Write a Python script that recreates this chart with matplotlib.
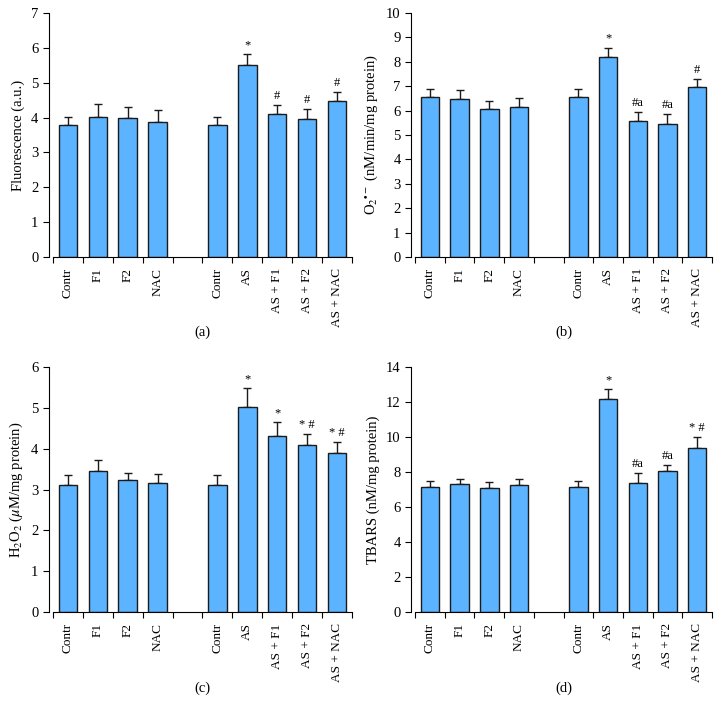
import matplotlib
matplotlib.use("Agg")
import matplotlib.pyplot as plt
import numpy as np

plt.rcParams['font.family'] = ['Liberation Serif', 'DejaVu Serif']
plt.rcParams['mathtext.fontset'] = 'stix'

categories = ["Contr", "F1", "F2", "NAC", "", "Contr", "AS", "AS + F1", "AS + F2", "AS + NAC"]

# panel (a) Fluorescence
a_vals = [3.80, 4.03, 4.00, 3.87, None, 3.80, 5.52, 4.10, 3.97, 4.49]
a_err = [0.22, 0.36, 0.30, 0.35, None, 0.22, 0.31, 0.26, 0.28, 0.25]
a_sig = ["", "", "", "", "", "", "*", "#", "#", "#"]

# panel (b) superoxide
b_vals = [6.57, 6.48, 6.05, 6.13, None, 6.57, 8.18, 5.59, 5.47, 6.97]
b_err = [0.31, 0.36, 0.33, 0.39, None, 0.31, 0.40, 0.37, 0.39, 0.31]
b_sig = ["", "", "", "", "", "", "*", "#a", "#a", "#"]

# panel (c) H2O2
c_vals = [3.11, 3.46, 3.23, 3.16, None, 3.11, 5.02, 4.32, 4.08, 3.90]
c_err = [0.24, 0.27, 0.17, 0.23, None, 0.24, 0.45, 0.33, 0.27, 0.26]
c_sig = ["", "", "", "", "", "", "*", "*", "* #", "* #"]

# panel (d) TBARS
d_vals = [7.13, 7.30, 7.09, 7.28, None, 7.13, 12.19, 7.40, 8.04, 9.39]
d_err = [0.34, 0.29, 0.32, 0.31, None, 0.34, 0.53, 0.57, 0.34, 0.59]
d_sig = ["", "", "", "", "", "", "*", "#a", "#a", "* #"]

panels = [
    (a_vals, a_err, a_sig, 7, 1, "Fluorescence (a.u.)", "(a)", [0.0734, 0.644, 0.414, 0.338]),
    (b_vals, b_err, b_sig, 10, 1, r"O$_2$$^{\bullet-}$ (nM/min/mg protein)", "(b)", [0.575, 0.644, 0.411, 0.338]),
    (c_vals, c_err, c_sig, 6, 1, r"H$_2$O$_2$ ($\mu$M/mg protein)", "(c)", [0.0734, 0.152, 0.414, 0.340]),
    (d_vals, d_err, d_sig, 14, 2, "TBARS (nM/mg protein)", "(d)", [0.575, 0.152, 0.411, 0.340]),
]

bar_color = "#5CB3FF"
edge_color = "#1b1b1b"

fig = plt.figure(figsize=(7.22, 7.22), dpi=100)
for vals, errs, sig, ymax, ystep, ylabel, plabel, rect in panels:
    ax = fig.add_axes(rect)
    x = [i for i, v in enumerate(vals) if v is not None]
    v = [vals[i] for i in x]
    e = [errs[i] for i in x]
    ax.bar(x, v, width=0.62, color=bar_color, edgecolor=edge_color, linewidth=1.0, zorder=2)
    ax.errorbar(x, v, yerr=[np.zeros(len(e)), e], fmt="none", ecolor=edge_color,
                elinewidth=1.0, capsize=3, capthick=1.0, zorder=1)
    for xi, vi, ei in zip(x, v, e):
        if sig[xi]:
            ax.text(xi, vi + ei + ymax * 0.012, sig[xi], ha="center", va="bottom", fontsize=9)
    ax.set_xlim(-0.5, 9.5)
    ax.set_ylim(0, ymax)
    ax.set_yticks(np.arange(0, ymax + 0.01, ystep))
    ax.set_xticks(np.arange(-0.5, 10, 1.0))
    ax.set_xticklabels([])
    ax.set_xticks(range(len(categories)), minor=True)
    ax.set_xticklabels(categories, minor=True, rotation=90, fontsize=9.5)
    ax.tick_params(axis="x", which="minor", length=0, pad=8)
    ax.tick_params(axis="x", which="major", length=4, width=0.8, direction="out")
    ax.tick_params(axis="y", length=4, width=0.8, labelsize=10.5)
    ax.spines["top"].set_visible(False)
    ax.spines["right"].set_visible(False)
    ax.spines["left"].set_position(("outward", 3))
    ax.set_ylabel(ylabel, fontsize=10.5)
    ax.text(0.5, -0.31, plabel, transform=ax.transAxes, ha="center", va="center", fontsize=10.5)

fig.savefig("out.png", dpi=100)
